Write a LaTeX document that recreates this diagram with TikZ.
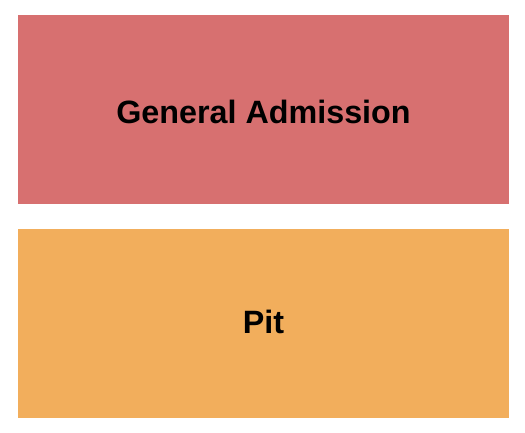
\documentclass[tikz,border=0pt]{standalone}
\usepackage{fontspec}
\setmainfont{Liberation Sans}
\usepackage{tikz}
\usetikzlibrary{calc}

\definecolor{garouge}{HTML}{D77070}
\definecolor{pitorange}{HTML}{F2AE5C}

\tikzset{
  section/.style={draw=none, rectangle, inner sep=0pt, minimum width=491pt, minimum height=189pt},
  etiquette/.style={font=\fontsize{32.3}{38}\selectfont\bfseries, text=black, inner sep=0pt}
}

\begin{document}
\begin{tikzpicture}[x=1pt, y=-1pt]
          % Cadre de la page
          \useasboundingbox (0,0) rectangle (525,432);
          \fill[white] (0,0) rectangle (525,432);

          % Sections
          \node[section, fill=garouge] (ga) at (263.5,109.5) {};
          \node[section, fill=pitorange] (pit) at (263.5,323.5) {};

          % Étiquettes des sections
          \node[etiquette] (galabel) at ($(ga.center)+(0,2.5)$) {General Admission};
          \node[etiquette] (pitlabel) at ($(pit.center)+(0,-2)$) {Pit};
        \end{tikzpicture}
\end{document}
